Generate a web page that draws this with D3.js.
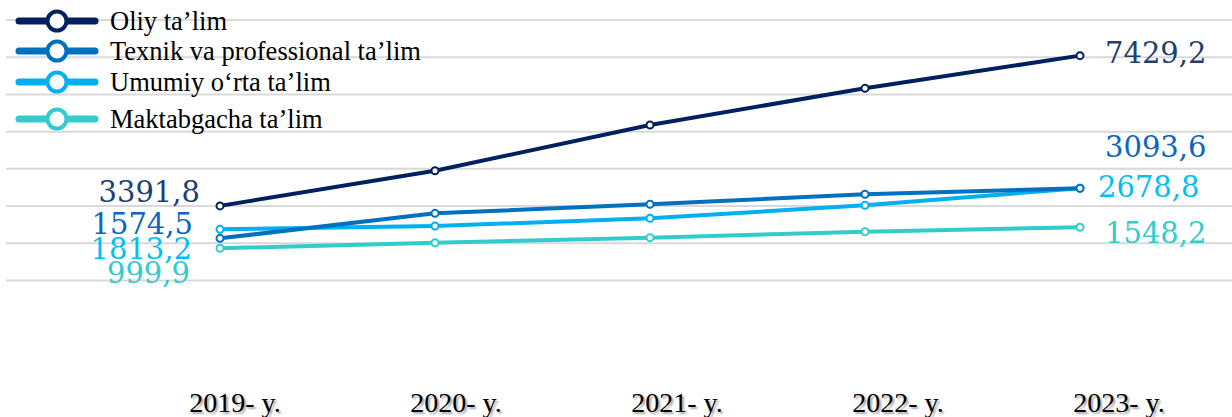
<!DOCTYPE html>
<html>
<head>
<meta charset="utf-8">
<script src="https://cdnjs.cloudflare.com/ajax/libs/d3/7.8.5/d3.min.js"></script>
<style>
  body { margin: 0; background: #fff; }
  svg { display: block; }
  .num { font-family: 'DejaVu Serif', serif; font-size: 29px; }
</style>
</head>
<body>
<svg></svg>
<script>
let years = ['2019', '2020', '2021', '2022', '2023'];
let yearLabels = ['2019- y.', '2020- y.', '2021- y.', '2022- y.', '2023- y.'];

let seriesNames = ['Oliy ta\u2019lim', 'Texnik va professional ta\u2019lim', 'Umumiy o\u2018rta ta\u2019lim', 'Maktabgacha ta\u2019lim'];
let oliy = [3391.8, 4337, 5565, 6551, 7429.2];
let texnik = [2520, 3192, 3434, 3703, 3864];
let umumiy = [2762, 2851, 3058, 3407, 3864];
let maktabgacha = [2252, 2402, 2537, 2698, 2816];

let firstLabels = ['3391,8', '1574,5', '1813,2', '999,9'];
let lastLabels = ['7429,2', '3093,6', '2678,8', '1548,2'];

let gridValues = d3.range(1400, 8401, 1000);

let width = 1232;
let height = 417;

let colors = ['#002060', '#0070C0', '#00B0F0', '#33CCCC'];
let labelColors = ['#1F3F6E', '#0A66C2', '#00BFF5', '#33CCCC'];

// label nudges from their end points
let firstOffsets = [[-20, -4], [-27, -4], [-28, 30], [-30, 35]];
let lastOffsets = [[25, 7], [25, -31], [18, 9], [25, 16]];

let series = [oliy, texnik, umumiy, maktabgacha];

let xScale = d3.scalePoint()
        .domain(years)
        .range([220, 1080]);

let yScale = d3.scaleLinear()
        .domain([1400, 8400])
        .range([280, 19.5]);

let svg = d3.select('svg')
        .attr('width', width)
        .attr('height', height);

let yAxis = d3.axisLeft(yScale).tickValues(gridValues).tickSize(-width + 6).tickFormat('');

svg.append('g')
        .attr('transform', 'translate(6,0)')
        .call(yAxis)
        .call(g => g.select('.domain').remove())
        .call(g => g.selectAll('line').attr('stroke', '#D9D9D9').attr('stroke-width', 2));

let line = d3.line()
        .x((d, i) => xScale(years[i]))
        .y(d => yScale(d));

// draw bottom series first so the darker ones sit on top
let order = [3, 2, 1, 0];

order.forEach(k => {
    svg.append('path')
        .datum(series[k])
        .attr('d', line)
        .attr('fill', 'none')
        .attr('stroke', colors[k])
        .attr('stroke-width', 4)
        .attr('stroke-linejoin', 'round');

    svg.append('g')
        .selectAll('circle')
        .data(series[k])
        .enter()
        .append('circle')
        .attr('cx', (d, i) => xScale(years[i]))
        .attr('cy', d => yScale(d))
        .attr('r', 3.5)
        .attr('fill', '#fff')
        .attr('stroke', colors[k])
        .attr('stroke-width', 2);
});

series.forEach((s, k) => {
    svg.append('text')
        .attr('class', 'num')
        .attr('x', xScale(years[0]) + firstOffsets[k][0])
        .attr('y', yScale(s[0]) + firstOffsets[k][1])
        .attr('text-anchor', 'end')
        .attr('fill', labelColors[k])
        .text(firstLabels[k]);

    svg.append('text')
        .attr('class', 'num')
        .attr('x', xScale(years[years.length - 1]) + lastOffsets[k][0])
        .attr('y', yScale(s[s.length - 1]) + lastOffsets[k][1])
        .attr('text-anchor', 'start')
        .attr('fill', labelColors[k])
        .text(lastLabels[k]);
});

// category labels sit a bit to the right of the points
let labelScale = d3.scalePoint()
        .domain(years)
        .range([235, 1119]);

svg.append('g')
        .selectAll('text')
        .data(yearLabels)
        .enter()
        .append('text')
        .attr('x', (d, i) => labelScale(years[i]))
        .attr('y', 412)
        .attr('text-anchor', 'middle')
        .style('font-family', "'Liberation Serif', 'Times New Roman', serif")
        .style('font-size', '28px')
        .style('fill', '#000')
        .style('text-shadow', '2px 2px 2px rgba(0,0,0,0.35)')
        .text(d => d);

// legend
let legendRows = [21, 51, 82, 119];

let legend = svg.append('g')
        .selectAll('g')
        .data(seriesNames)
        .enter()
        .append('g')
        .attr('transform', (d, i) => 'translate(0,' + legendRows[i] + ')');

legend.append('line')
        .attr('x1', 19)
        .attr('x2', 95)
        .attr('stroke', (d, i) => colors[i])
        .attr('stroke-width', 7)
        .attr('stroke-linecap', 'round');

legend.append('circle')
        .attr('cx', 57)
        .attr('r', 9.5)
        .attr('fill', '#fff')
        .attr('stroke', (d, i) => colors[i])
        .attr('stroke-width', 4);

legend.append('text')
        .attr('x', 110)
        .attr('y', 9)
        .style('font-family', "'Liberation Serif', 'Times New Roman', serif")
        .style('font-size', '26.5px')
        .style('fill', '#000')
        .text(d => d);
</script>
</body>
</html>
